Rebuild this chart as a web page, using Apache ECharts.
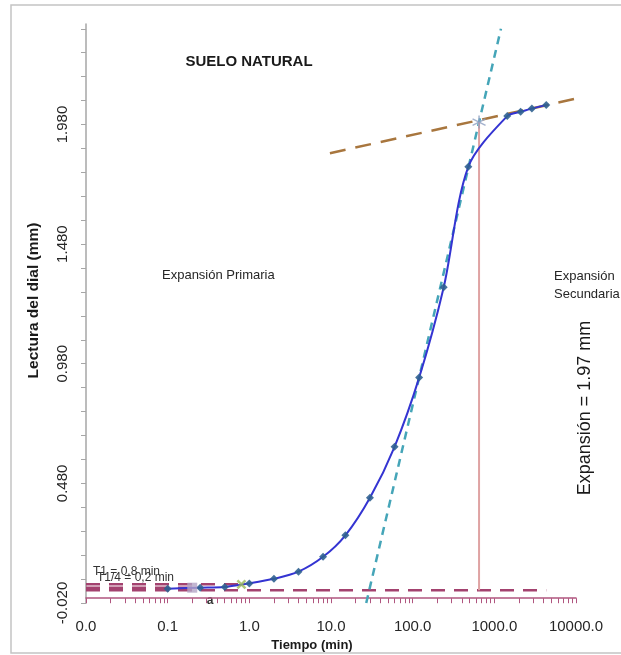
<!DOCTYPE html>
<html>
<head>
<meta charset="utf-8">
<script src="https://cdn.jsdelivr.net/npm/echarts@6/dist/echarts.min.js"></script>
<style>
  html, body { margin: 0; padding: 0; background: #ffffff; }
  #chart { width: 621px; height: 655px; }
</style>
</head>
<body>
<div id="chart"></div>
<script>
// Swell test, natural soil: dial reading versus elapsed time (log scale)
const timesMin = [0.1, 0.25, 0.5, 1, 2, 4, 8, 15, 30, 60, 120, 240, 480, 1440, 2100, 2880, 4320];
const dialReadings = [0.040, 0.044, 0.047, 0.062, 0.081, 0.111, 0.173, 0.263, 0.420, 0.633, 0.922, 1.300, 1.803, 2.015, 2.033, 2.047, 2.061];

// Construction lines
const baseLevel = 0.033;           // initial reading (0 % primary swell)
const t14Point = [0.2, 0.044];     // T1/4
const t1Point = [0.8, 0.058];      // T1
const endPrimary = [650, 1.99];    // intersection of the two tangents
const primaryTangent = [[27, -0.02], [1205, 2.38]];
const secondaryTangent = [[9.7, 1.86], [10000, 2.088]];

// Axis labels
const xLabelValues = [0.01, 0.1, 1, 10, 100, 1000, 10000];
const yLabelValues = [-0.02, 0.48, 0.98, 1.48, 1.98];

const xTickValues = [];
for (let d = -2; d < 4; d++) {
  for (let m = 1; m < 10; m++) xTickValues.push(m * Math.pow(10, d));
}
xTickValues.push(10000);
const yTickValues = [];
for (let i = 0; i <= 24; i++) yTickValues.push(Math.round((-0.02 + i * 0.1) * 1000) / 1000);

const FONT = 'Liberation Sans, Arial, sans-serif';
const chart = echarts.init(document.getElementById('chart'));

chart.setOption({
  animation: false,
  backgroundColor: '#ffffff',
  grid: { left: 86, right: 45, top: 24, bottom: 52, outerBoundsMode: 'none', containLabel: false },
  xAxis: {
    type: 'log',
    logBase: 10,
    min: 0.01,
    max: 10000,
    name: 'Tiempo (min)',
    nameLocation: 'middle',
    nameGap: 30,
    nameTextStyle: { fontFamily: FONT, fontWeight: 'bold', fontSize: 13, color: '#1a1a1a', padding: [0, 38, 0, 0] },
    axisLine: { lineStyle: { color: '#b0557f', width: 1.5 } },
    axisTick: { show: true, length: 5, lineStyle: { color: '#b0557f', width: 1 }, customValues: xTickValues },
    axisLabel: {
      customValues: xLabelValues,
      margin: 16,
      fontFamily: FONT,
      fontSize: 15,
      color: '#262626',
      formatter: v => Number(v).toFixed(1)
    },
    splitLine: { show: false },
    minorTick: { show: false }
  },
  yAxis: {
    type: 'value',
    min: -0.02,
    max: 2.4,
    name: 'Lectura del dial (mm)',
    nameLocation: 'middle',
    nameRotate: 90,
    nameGap: 44,
    nameTextStyle: { fontFamily: FONT, fontWeight: 'bold', fontSize: 15.5, color: '#1a1a1a', padding: [0, 0, 0, 26] },
    axisLine: { show: true, lineStyle: { color: '#a6a6a6', width: 1.5 } },
    axisTick: { show: true, length: 5, lineStyle: { color: '#a6a6a6', width: 1 }, customValues: yTickValues },
    axisLabel: {
      customValues: yLabelValues,
      rotate: 90,
      margin: 16,
      fontFamily: FONT,
      fontSize: 15,
      color: '#262626',
      formatter: v => Number(v).toFixed(3)
    },
    splitLine: { show: false }
  },
  graphic: [
    { type: 'rect', shape: { x: 11, y: 5, width: 612, height: 648 }, style: { fill: 'none', stroke: '#c4c4c4', lineWidth: 1.5 }, silent: true },
    { type: 'text', x: 249, y: 62, style: { text: 'SUELO NATURAL', font: 'bold 15px ' + FONT, fill: '#1a1a1a', align: 'center', verticalAlign: 'middle' } },
    { type: 'text', x: 162, y: 275, style: { text: 'Expansión Primaria', font: '13px ' + FONT, fill: '#262626', align: 'left', verticalAlign: 'middle' } },
    { type: 'text', x: 554, y: 276, style: { text: 'Expansión', font: '13px ' + FONT, fill: '#262626', align: 'left', verticalAlign: 'middle' } },
    { type: 'text', x: 554, y: 294, style: { text: 'Secundaria', font: '13px ' + FONT, fill: '#262626', align: 'left', verticalAlign: 'middle' } },
    { type: 'text', x: 585, y: 408, rotation: Math.PI / 2, style: { text: 'Expansión = 1.97 mm', font: '18px ' + FONT, fill: '#1a1a1a', align: 'center', verticalAlign: 'middle' } },
    { type: 'text', x: 93, y: 572, style: { text: 'T1 = 0,8 min', font: '12px ' + FONT, fill: '#333333', align: 'left', verticalAlign: 'middle' } },
    { type: 'text', x: 97, y: 578, style: { text: 'T1/4 = 0,2 min', font: '12px ' + FONT, fill: '#333333', align: 'left', verticalAlign: 'middle' } },
    { type: 'text', x: 210, y: 601, style: { text: 'a', font: 'bold 12px ' + FONT, fill: '#333333', align: 'center', verticalAlign: 'middle' } }
  ],
  series: [
    {
      name: 'base',
      type: 'line',
      data: [[0.01, baseLevel], [4320, baseLevel]],
      symbol: 'none',
      lineStyle: { color: '#a3426f', width: 2.5, type: [14, 9] },
      z: 2
    },
    {
      name: 'T1/4 level',
      type: 'line',
      data: [[0.01, t14Point[1]], t14Point],
      symbol: 'none',
      lineStyle: { color: '#a3426f', width: 2.5, type: [14, 9] },
      z: 2
    },
    {
      name: 'T1 level',
      type: 'line',
      data: [[0.01, t1Point[1]], t1Point],
      symbol: 'none',
      lineStyle: { color: '#a3426f', width: 2.5, type: [14, 9] },
      z: 2
    },
    {
      name: 'primary tangent',
      type: 'line',
      data: primaryTangent,
      symbol: 'none',
      lineStyle: { color: '#45a5b8', width: 2.5, type: [8, 6] },
      z: 3
    },
    {
      name: 'secondary tangent',
      type: 'line',
      data: secondaryTangent,
      symbol: 'none',
      lineStyle: { color: '#a8763e', width: 2.5, type: [16, 10] },
      z: 3
    },
    {
      name: 'end of primary',
      type: 'line',
      data: [[endPrimary[0], baseLevel], endPrimary],
      symbol: 'none',
      lineStyle: { color: '#dfa3a3', width: 2 },
      z: 3
    },
    {
      name: 'lectura',
      type: 'line',
      data: timesMin.map((t, i) => [t, dialReadings[i]]),
      smooth: 0.3,
      symbol: 'diamond',
      symbolSize: 8,
      itemStyle: { color: '#2f6090', opacity: 0.9 },
      lineStyle: { color: '#3434d2', width: 2 },
      z: 5
    },
    {
      name: 'T1/4',
      type: 'scatter',
      data: [t14Point],
      symbol: 'rect',
      symbolSize: 10,
      itemStyle: { color: '#b3a4c6' },
      z: 6
    },
    {
      name: 'T1',
      type: 'scatter',
      data: [t1Point],
      symbol: 'path://M0,0 L8,8 M0,8 L8,0',
      symbolSize: 8,
      itemStyle: { color: 'transparent', borderColor: '#9bbb59', borderWidth: 2.5 },
      z: 6
    },
    {
      name: 'D100',
      type: 'scatter',
      data: [endPrimary],
      symbol: 'path://M6,0 L6,12 M0.8,3 L11.2,9 M0.8,9 L11.2,3',
      symbolSize: 13,
      itemStyle: { color: 'transparent', borderColor: '#8d9fc2', borderWidth: 1.5 },
      z: 6
    }
  ]
});
</script>
</body>
</html>
